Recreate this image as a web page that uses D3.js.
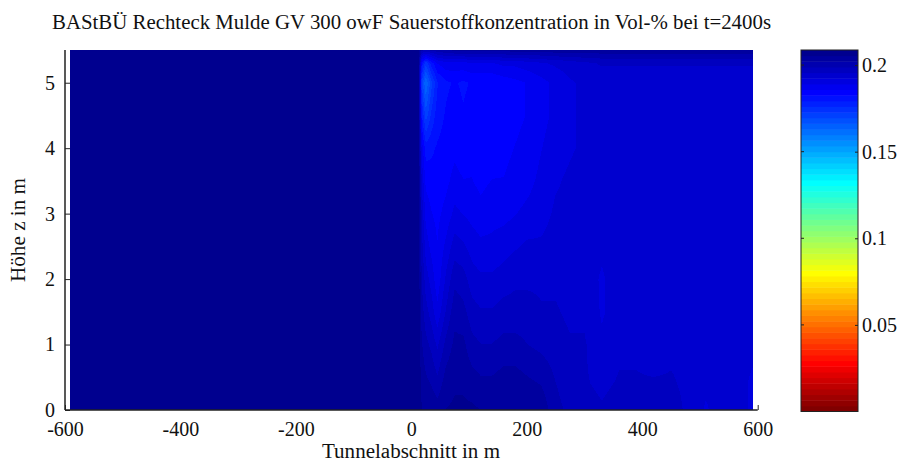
<!DOCTYPE html>
<html>
<head>
<meta charset="utf-8">
<script src="https://cdn.jsdelivr.net/npm/d3@7"></script>
<style>
html,body{margin:0;padding:0;background:#fff;}
svg{display:block;}
text{font-family:"Liberation Serif","DejaVu Serif",serif;fill:#111;}
</style>
</head>
<body>
<div id="chart"></div>
<script>
// ---------- data ----------
const titleText = "BAStBÜ Rechteck Mulde GV 300 owF Sauerstoffkonzentration in Vol-% bei t=2400s";
const xLabelText = "Tunnelabschnitt in m";
const yLabelText = "Höhe z in m";
const xTicks = [-600, -400, -200, 0, 200, 400, 600];
const yTicks = [0, 1, 2, 3, 4, 5];
const cTicks = [0.05, 0.1, 0.15, 0.2];
const cRange = [0, 0.2087];

// grid positions (m)
const xPositions = [-591, 12, 18, 25, 35, 45, 60, 75, 90, 105, 120, 140, 160, 180, 200, 225, 250, 275, 300, 330, 360, 390, 420, 450, 480, 510, 540, 570, 591];
const zLevels = [0, 0.4, 1, 1.5, 2, 2.5, 3, 3.5, 4, 4.5, 5, 5.3, 5.5];

// O2 concentration per column (values from bottom z=0 to top z=5.5)
const o2Columns = [
  [.2087,.2087,.2087,.2087,.2087,.2087,.2087,.2087,.2087,.2087,.2087,.2087,.2087],
  [.2087,.2087,.2087,.2087,.2087,.2087,.2087,.2087,.2087,.2087,.2087,.2087,.2087],
  [.2055,.2045,.2025,.2005,.199,.197,.195,.192,.188,.18,.172,.182,.2],
  [.205,.203,.2,.197,.194,.191,.188,.185,.181,.171,.163,.174,.199],
  [.2045,.202,.198,.194,.191,.188,.186,.184,.182,.177,.172,.181,.2],
  [.204,.2,.195,.19,.187,.186,.185,.184,.183,.181,.179,.186,.201],
  [.2055,.204,.2,.196,.193,.19,.187,.185,.184,.183,.182,.188,.202],
  [.206,.205,.203,.201,.198,.194,.19,.187,.185,.184,.183,.188,.203],
  [.206,.205,.203,.2,.197,.193,.189,.186,.184,.183,.182,.188,.203],
  [.206,.204,.2,.197,.194,.191,.188,.186,.185,.184,.183,.189,.203],
  [.2055,.203,.199,.196,.193,.19,.187,.185,.184,.183,.183,.189,.203],
  [.2055,.203,.199,.196,.193,.19,.188,.186,.184,.183,.183,.189,.2035],
  [.2055,.204,.2,.197,.194,.191,.188,.186,.185,.184,.184,.19,.2035],
  [.2055,.204,.2,.197,.195,.192,.189,.187,.186,.185,.185,.19,.204],
  [.205,.203,.199,.197,.195,.193,.19,.188,.187,.186,.186,.191,.204],
  [.2045,.202,.198,.196,.195,.193,.191,.19,.189,.188,.188,.192,.204],
  [.2,.199,.197,.196,.195,.194,.193,.192,.191,.19,.19,.193,.2045],
  [.198,.197,.196,.195,.194,.194,.193,.193,.192,.192,.192,.194,.2045],
  [.197,.196,.196,.195,.194,.194,.194,.194,.193,.193,.193,.195,.2045],
  [.196,.195,.193,.192,.192,.193,.194,.194,.194,.194,.194,.196,.2045],
  [.197,.196,.195,.194,.194,.194,.194,.194,.194,.194,.194,.196,.2045],
  [.197,.196,.195,.194,.193,.193,.193,.194,.194,.194,.194,.196,.2045],
  [.197,.196,.194,.193,.193,.193,.193,.193,.194,.194,.194,.196,.2045],
  [.197,.196,.195,.194,.194,.194,.194,.194,.194,.194,.194,.196,.2045],
  [.195,.195,.195,.195,.194,.194,.194,.194,.194,.194,.194,.196,.2045],
  [.192,.193,.193,.193,.193,.193,.194,.194,.194,.194,.194,.196,.2045],
  [.194,.194,.194,.194,.194,.194,.194,.194,.194,.194,.194,.196,.2045],
  [.193,.193,.193,.193,.194,.194,.194,.194,.194,.194,.194,.196,.2045],
  [.192,.192,.193,.193,.193,.194,.194,.194,.194,.194,.194,.196,.2045]
];

// ---------- colormap (MATLAB jet(64), flipped) ----------
function jetMap(m) {
  const n = Math.ceil(m / 4);
  const u = [];
  for (let i = 1; i <= n; i++) u.push(i / n);
  for (let i = 1; i < n; i++) u.push(1);
  for (let i = n; i >= 1; i--) u.push(i / n);
  const gOff = Math.ceil(n / 2) - (m % 4 === 1 ? 1 : 0);
  const J = d3.range(m).map(() => [0, 0, 0]);
  u.forEach((val, k) => {
    const g = gOff + k + 1, r = g + n, b = g - n;
    if (r >= 1 && r <= m) J[r - 1][0] = val;
    if (g >= 1 && g <= m) J[g - 1][1] = val;
    if (b >= 1 && b <= m) J[b - 1][2] = val;
  });
  return J.map(c => c.map(v => Math.round(v * 255)));
}
const cmapRGB = jetMap(64).reverse();
const colorScale = d3.scaleQuantize().domain(cRange).range(d3.range(64));

// ---------- layout ----------
const W = 901, H = 461;
const FONT = '"Liberation Serif","DejaVu Serif",serif';
const x = d3.scaleLinear().domain([-600, 600]).range([65, 757.7]);
const y = d3.scaleLinear().domain([0, 5.5]).range([410, 50]);
const cy = d3.scaleLinear().domain(cRange).range([411.5, 50]);
const cbX0 = 801, cbX1 = 858;

const svg = d3.select("#chart").append("svg").attr("width", W).attr("height", H);

// heatmap (interpolated shading) rendered through scales
const hx0 = Math.round(x(xPositions[0])), hx1 = Math.round(x(xPositions[xPositions.length - 1]));
const hy0 = Math.round(y(zLevels[zLevels.length - 1])), hy1 = Math.round(y(0));
const cw = hx1 - hx0, ch = hy1 - hy0;
const canvas = document.createElement("canvas");
canvas.width = cw; canvas.height = ch;
const ctx = canvas.getContext("2d");
const img = ctx.createImageData(cw, ch);
function valueAt(m, z) {
  let i = d3.bisectRight(xPositions, m) - 1;
  i = Math.max(0, Math.min(xPositions.length - 2, i));
  let j = d3.bisectRight(zLevels, z) - 1;
  j = Math.max(0, Math.min(zLevels.length - 2, j));
  const tx = Math.max(0, Math.min(1, (m - xPositions[i]) / (xPositions[i + 1] - xPositions[i])));
  const tz = Math.max(0, Math.min(1, (z - zLevels[j]) / (zLevels[j + 1] - zLevels[j])));
  const a = o2Columns[i][j], b = o2Columns[i + 1][j], c = o2Columns[i][j + 1], d = o2Columns[i + 1][j + 1];
  return (a * (1 - tx) + b * tx) * (1 - tz) + (c * (1 - tx) + d * tx) * tz;
}
for (let py = 0; py < ch; py++) {
  const z = y.invert(hy0 + py + 0.5);
  for (let px = 0; px < cw; px++) {
    const m = x.invert(hx0 + px + 0.5);
    const rgb = cmapRGB[colorScale(valueAt(m, z))];
    const k = (py * cw + px) * 4;
    img.data[k] = rgb[0]; img.data[k + 1] = rgb[1]; img.data[k + 2] = rgb[2]; img.data[k + 3] = 255;
  }
}
ctx.putImageData(img, 0, 0);

// axes ticks (inward)
const axisColor = "#222";
const gx = svg.append("g").attr("transform", `translate(0,${y(0)})`)
  .call(d3.axisBottom(x).tickValues(xTicks).tickSizeInner(-5).tickSizeOuter(0).tickPadding(10).tickFormat(d => String(d)));
const gy = svg.append("g").attr("transform", `translate(${x(-600)},0)`)
  .call(d3.axisLeft(y).tickValues(yTicks).tickSizeInner(-5).tickSizeOuter(0).tickPadding(10).tickFormat(d => String(d)));
[gx, gy].forEach(g => {
  g.select(".domain").remove();
  g.selectAll(".tick line").attr("stroke", axisColor).attr("stroke-width", 1);
  g.selectAll("text").attr("font-size", 20).attr("font-family", FONT).attr("fill", "#111");
});
gx.selectAll("text").attr("dy", "0.71em").attr("y", 12);

svg.append("image").attr("x", hx0).attr("y", hy0).attr("width", cw).attr("height", ch)
  .attr("preserveAspectRatio", "none").attr("href", canvas.toDataURL());

// axis lines
svg.append("line").attr("x1", x(-600)).attr("x2", x(-600)).attr("y1", y(0)).attr("y2", y(5.5))
  .attr("stroke", axisColor).attr("stroke-width", 1.5);
svg.append("line").attr("x1", x(-600)).attr("x2", x(600)).attr("y1", y(0)).attr("y2", y(0))
  .attr("stroke", axisColor).attr("stroke-width", 1.5);

// labels
svg.append("text").attr("x", 411.5).attr("y", 29).attr("text-anchor", "middle").attr("font-size", 20)
  .attr("textLength", 719).attr("lengthAdjust", "spacingAndGlyphs").text(titleText);
svg.append("text").attr("x", 411).attr("y", 458).attr("text-anchor", "middle").attr("font-size", 20)
  .attr("textLength", 178).attr("lengthAdjust", "spacingAndGlyphs").text(xLabelText);
svg.append("text").attr("transform", "translate(25,230) rotate(-90)").attr("text-anchor", "middle").attr("font-size", 20)
  .attr("textLength", 104).attr("lengthAdjust", "spacingAndGlyphs").text(yLabelText);

// colorbar
const cb = svg.append("g");
const bands = d3.range(64);
const bandW = (cRange[1] - cRange[0]) / 64;
cb.selectAll("rect.band").data(bands).join("rect").attr("class", "band")
  .attr("x", cbX0).attr("width", cbX1 - cbX0)
  .attr("y", i => cy((i + 1) * bandW))
  .attr("height", i => cy(i * bandW) - cy((i + 1) * bandW) + 0.5)
  .attr("fill", i => `rgb(${cmapRGB[i].join(",")})`);
cb.append("rect").attr("x", cbX0).attr("y", cy(cRange[1])).attr("width", cbX1 - cbX0)
  .attr("height", cy(cRange[0]) - cy(cRange[1])).attr("fill", "none").attr("stroke", axisColor).attr("stroke-width", 1);
const cAxis = cb.append("g").attr("transform", `translate(${cbX1},0)`)
  .call(d3.axisRight(cy).tickValues(cTicks).tickSizeInner(-3).tickSizeOuter(0).tickPadding(4).tickFormat(d => String(d)));
cAxis.select(".domain").remove();
cAxis.selectAll(".tick line").attr("stroke", axisColor);
cAxis.selectAll("text").attr("font-size", 20).attr("font-family", FONT).attr("fill", "#111");
cb.selectAll("line.lt").data(cTicks).join("line").attr("class", "lt")
  .attr("x1", cbX0).attr("x2", cbX0 + 3).attr("y1", d => cy(d)).attr("y2", d => cy(d)).attr("stroke", axisColor);
</script>
</body>
</html>
